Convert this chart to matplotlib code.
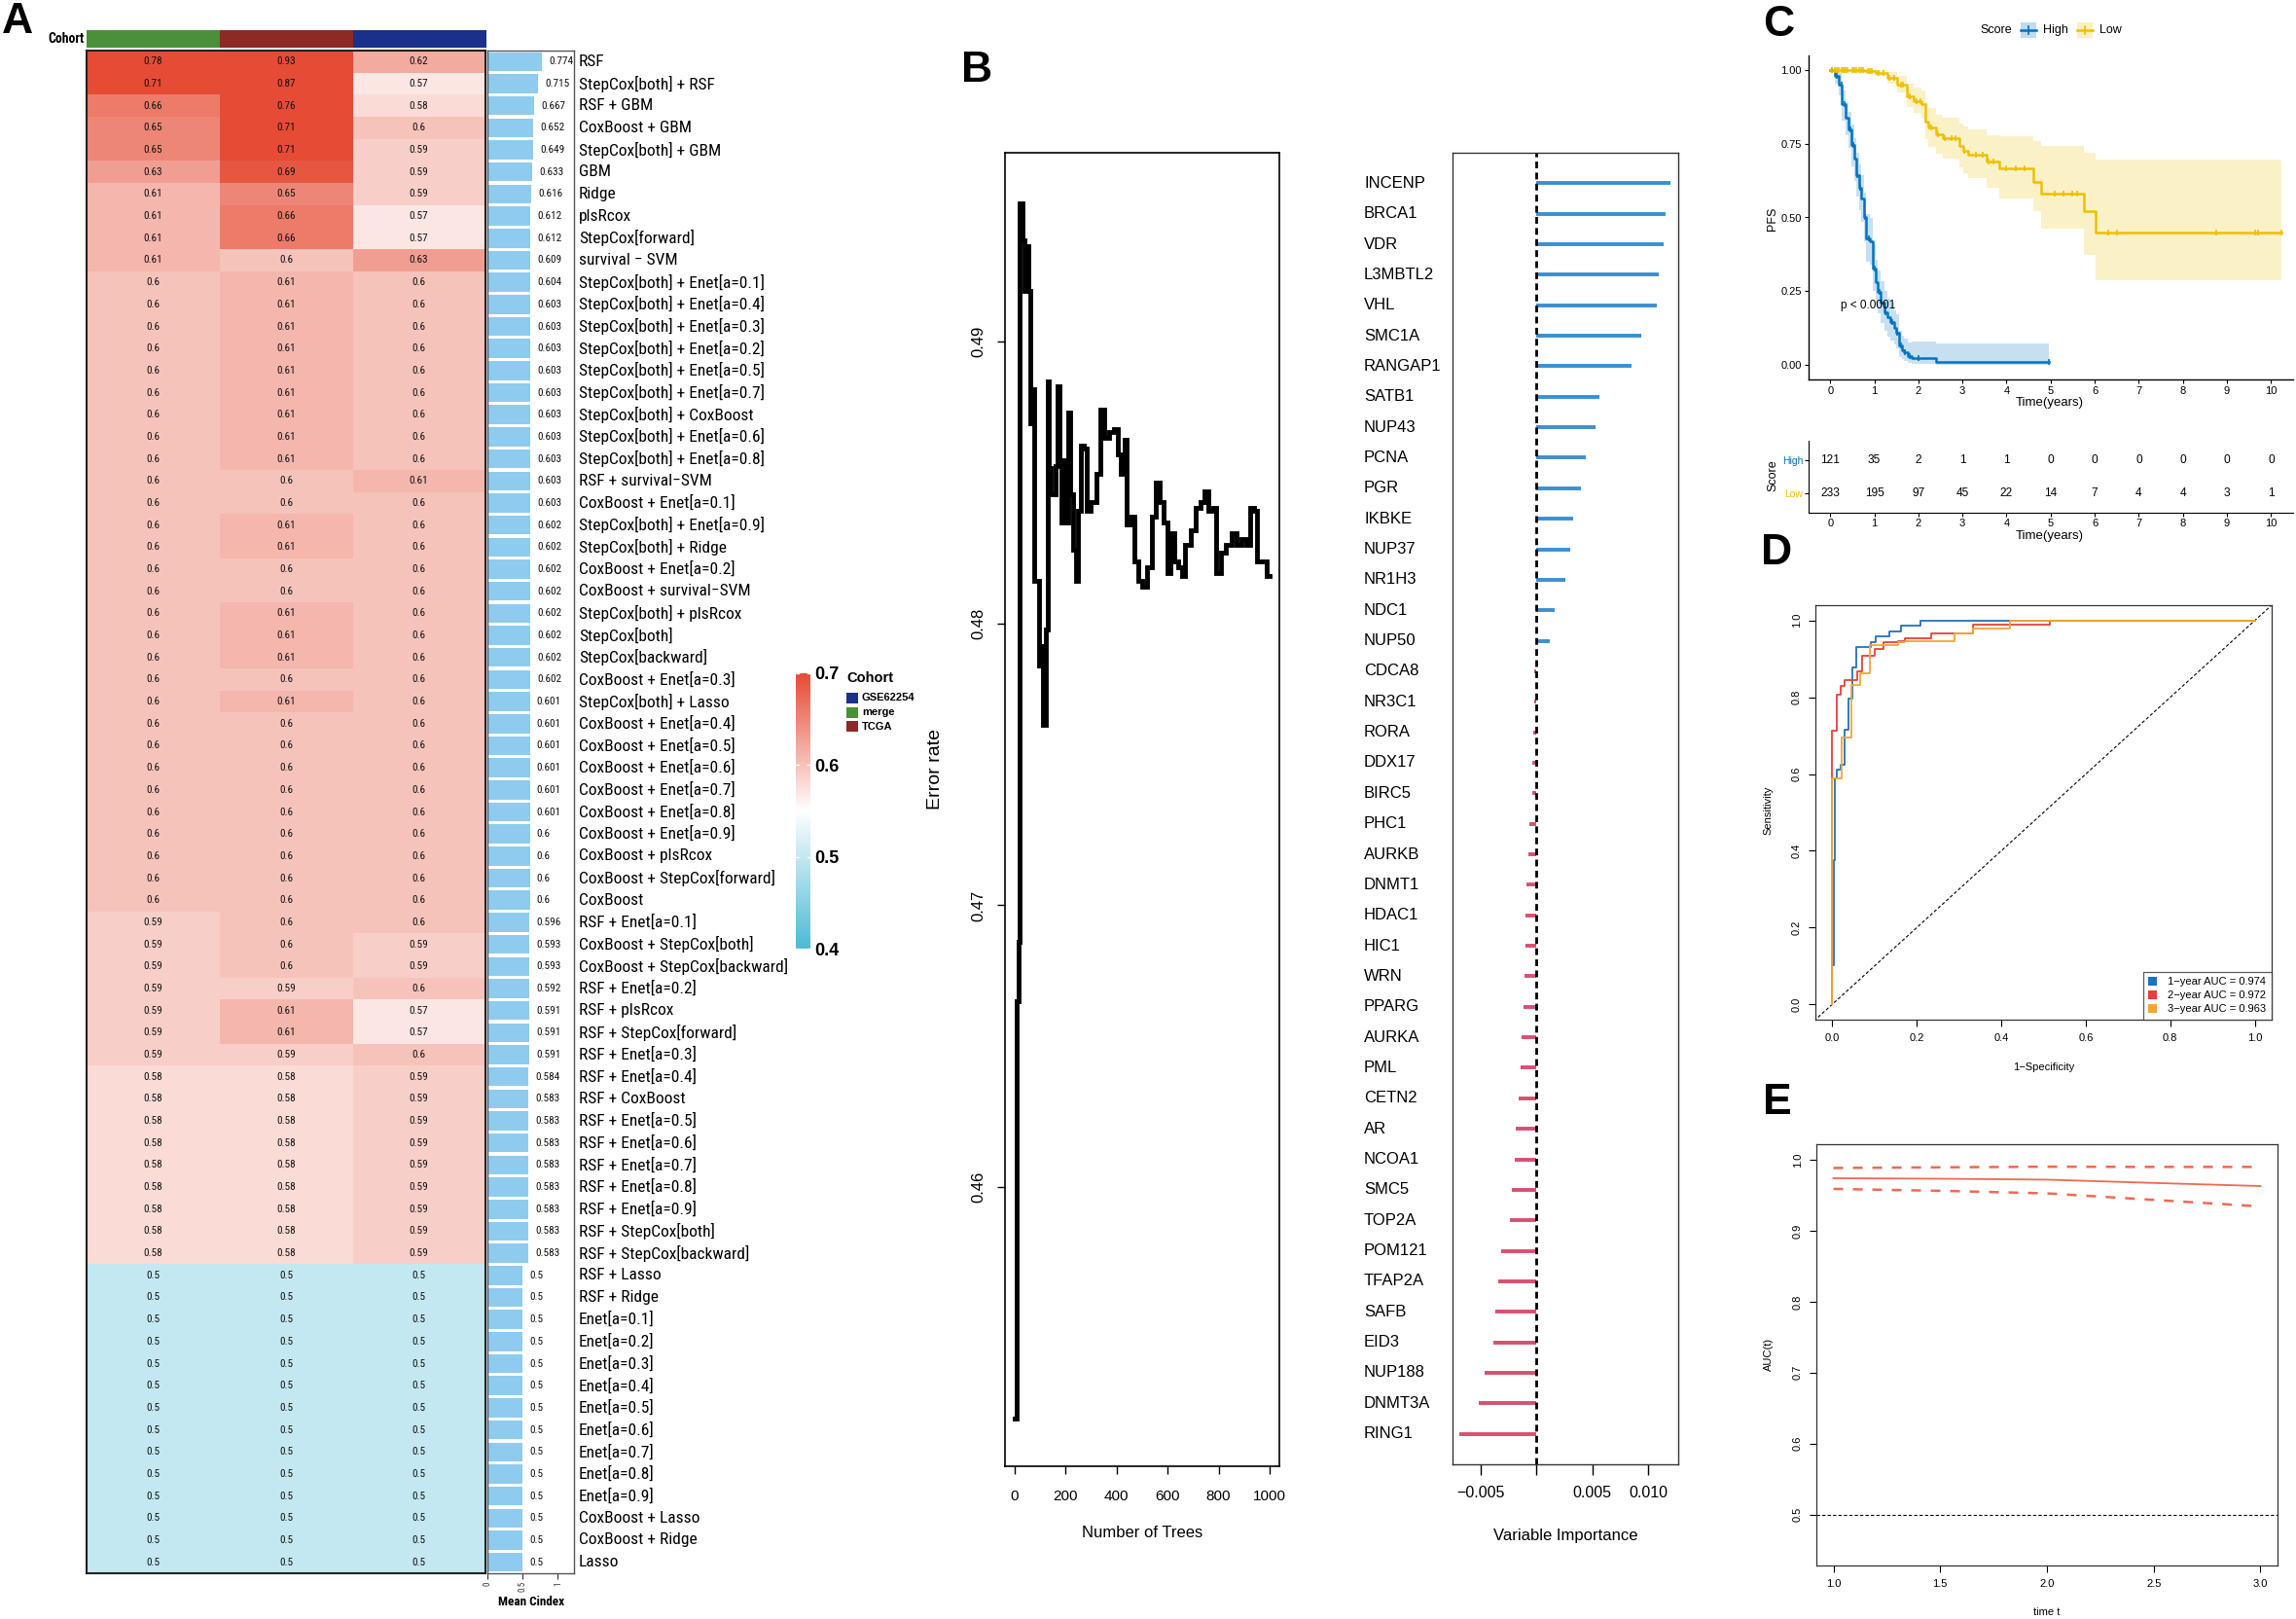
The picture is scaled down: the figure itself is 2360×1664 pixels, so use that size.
import numpy as np
import matplotlib
matplotlib.use('Agg')
import matplotlib.pyplot as plt
from matplotlib.colors import LinearSegmentedColormap, Normalize, ListedColormap
from matplotlib.patches import Rectangle, Patch
from matplotlib.lines import Line2D
import matplotlib.transforms as mtrans
import matplotlib.font_manager as fm

# ---------------- DATA ----------------
models = ["RSF", "StepCox[both] + RSF", "RSF + GBM", "CoxBoost + GBM", "StepCox[both] + GBM", "GBM", "Ridge",
          "plsRcox", "StepCox[forward]", "survival \u2212 SVM",
          "StepCox[both] + Enet[a=0.1]", "StepCox[both] + Enet[a=0.4]", "StepCox[both] + Enet[a=0.3]",
          "StepCox[both] + Enet[a=0.2]", "StepCox[both] + Enet[a=0.5]", "StepCox[both] + Enet[a=0.7]",
          "StepCox[both] + CoxBoost", "StepCox[both] + Enet[a=0.6]", "StepCox[both] + Enet[a=0.8]",
          "RSF + survival\u2212SVM",
          "CoxBoost + Enet[a=0.1]", "StepCox[both] + Enet[a=0.9]", "StepCox[both] + Ridge", "CoxBoost + Enet[a=0.2]",
          "CoxBoost + survival\u2212SVM", "StepCox[both] + plsRcox", "StepCox[both]", "StepCox[backward]",
          "CoxBoost + Enet[a=0.3]", "StepCox[both] + Lasso",
          "CoxBoost + Enet[a=0.4]", "CoxBoost + Enet[a=0.5]", "CoxBoost + Enet[a=0.6]", "CoxBoost + Enet[a=0.7]",
          "CoxBoost + Enet[a=0.8]", "CoxBoost + Enet[a=0.9]", "CoxBoost + plsRcox", "CoxBoost + StepCox[forward]",
          "CoxBoost", "RSF + Enet[a=0.1]",
          "CoxBoost + StepCox[both]", "CoxBoost + StepCox[backward]", "RSF + Enet[a=0.2]", "RSF + plsRcox",
          "RSF + StepCox[forward]", "RSF + Enet[a=0.3]", "RSF + Enet[a=0.4]", "RSF + CoxBoost", "RSF + Enet[a=0.5]",
          "RSF + Enet[a=0.6]",
          "RSF + Enet[a=0.7]", "RSF + Enet[a=0.8]", "RSF + Enet[a=0.9]", "RSF + StepCox[both]",
          "RSF + StepCox[backward]", "RSF + Lasso", "RSF + Ridge", "Enet[a=0.1]", "Enet[a=0.2]", "Enet[a=0.3]",
          "Enet[a=0.4]", "Enet[a=0.5]", "Enet[a=0.6]", "Enet[a=0.7]", "Enet[a=0.8]", "Enet[a=0.9]",
          "CoxBoost + Lasso", "CoxBoost + Ridge", "Lasso"]

cindex_merge = [0.78, 0.71, 0.66, 0.65, 0.65, 0.63, 0.61, 0.61, 0.61, 0.61,
                0.6, 0.6, 0.6, 0.6, 0.6, 0.6, 0.6, 0.6, 0.6, 0.6,
                0.6, 0.6, 0.6, 0.6, 0.6, 0.6, 0.6, 0.6, 0.6, 0.6,
                0.6, 0.6, 0.6, 0.6, 0.6, 0.6, 0.6, 0.6, 0.6, 0.59,
                0.59, 0.59, 0.59, 0.59, 0.59, 0.59, 0.58, 0.58, 0.58, 0.58,
                0.58, 0.58, 0.58, 0.58, 0.58, 0.5, 0.5, 0.5, 0.5, 0.5,
                0.5, 0.5, 0.5, 0.5, 0.5, 0.5, 0.5, 0.5, 0.5]
cindex_tcga = [0.93, 0.87, 0.76, 0.71, 0.71, 0.69, 0.65, 0.66, 0.66, 0.6,
               0.61, 0.61, 0.61, 0.61, 0.61, 0.61, 0.61, 0.61, 0.61, 0.6,
               0.6, 0.61, 0.61, 0.6, 0.6, 0.61, 0.61, 0.61, 0.6, 0.61,
               0.6, 0.6, 0.6, 0.6, 0.6, 0.6, 0.6, 0.6, 0.6, 0.6,
               0.6, 0.6, 0.59, 0.61, 0.61, 0.59, 0.58, 0.58, 0.58, 0.58,
               0.58, 0.58, 0.58, 0.58, 0.58, 0.5, 0.5, 0.5, 0.5, 0.5,
               0.5, 0.5, 0.5, 0.5, 0.5, 0.5, 0.5, 0.5, 0.5]
cindex_gse = [0.62, 0.57, 0.58, 0.6, 0.59, 0.59, 0.59, 0.57, 0.57, 0.63,
              0.6, 0.6, 0.6, 0.6, 0.6, 0.6, 0.6, 0.6, 0.6, 0.61,
              0.6, 0.6, 0.6, 0.6, 0.6, 0.6, 0.6, 0.6, 0.6, 0.6,
              0.6, 0.6, 0.6, 0.6, 0.6, 0.6, 0.6, 0.6, 0.6, 0.6,
              0.59, 0.59, 0.6, 0.57, 0.57, 0.6, 0.59, 0.59, 0.59, 0.59,
              0.59, 0.59, 0.59, 0.59, 0.59, 0.5, 0.5, 0.5, 0.5, 0.5,
              0.5, 0.5, 0.5, 0.5, 0.5, 0.5, 0.5, 0.5, 0.5]
mean_cindex = [0.774, 0.715, 0.667, 0.652, 0.649, 0.633, 0.616, 0.612, 0.612, 0.609,
               0.604, 0.603, 0.603, 0.603, 0.603, 0.603, 0.603, 0.603, 0.603, 0.603,
               0.603, 0.602, 0.602, 0.602, 0.602, 0.602, 0.602, 0.602, 0.602, 0.601,
               0.601, 0.601, 0.601, 0.601, 0.601, 0.6, 0.6, 0.6, 0.6, 0.596,
               0.593, 0.593, 0.592, 0.591, 0.591, 0.591, 0.584, 0.583, 0.583, 0.583,
               0.583, 0.583, 0.583, 0.583, 0.583, 0.5, 0.5, 0.5, 0.5, 0.5,
               0.5, 0.5, 0.5, 0.5, 0.5, 0.5, 0.5, 0.5, 0.5]
cohort_cols = ["merge", "TCGA", "GSE62254"]
cohort_legend = ["GSE62254", "merge", "TCGA"]
cohort_colors = {"merge": "#4a9038", "TCGA": "#8c2a26", "GSE62254": "#1b3088"}
cbar_ticks = [0.4, 0.5, 0.6, 0.7]

# Panel B: random forest error rate
rf_trees = [1, 10, 18, 20, 25, 30, 40, 45, 55, 62, 70, 78, 85, 95, 105, 112, 122, 130, 135, 142, 150, 160, 168,
            175, 183, 190, 198, 205, 212, 220, 230, 240, 250, 260, 270, 285, 300, 320, 335, 350, 370, 390, 405,
            418, 430, 440, 455, 470, 485, 500, 520, 540, 555, 570, 585, 600, 610, 625, 640, 655, 670, 690, 710,
            730, 745, 760, 780, 792, 810, 830, 850, 870, 890, 910, 922, 940, 950, 970, 990, 1000]
rf_error = [0.4518, 0.4666, 0.4687, 0.4949, 0.4949, 0.4936, 0.4918, 0.4934, 0.4918, 0.4871, 0.4883, 0.4815,
            0.4815, 0.4785, 0.4792, 0.4764, 0.4798, 0.4886, 0.4855, 0.4846, 0.4846, 0.4856, 0.4884, 0.4858,
            0.4836, 0.4858, 0.4856, 0.4836, 0.4875, 0.4846, 0.4826, 0.4815, 0.4840, 0.4863, 0.4862, 0.4840,
            0.4843, 0.4853, 0.4876, 0.4866, 0.4868, 0.4869, 0.4860, 0.4853, 0.4865, 0.4835, 0.4838, 0.4822,
            0.4815, 0.4813, 0.4820, 0.4838, 0.4850, 0.4843, 0.4836, 0.4818, 0.4832, 0.4822, 0.4820, 0.4817,
            0.4828, 0.4833, 0.4841, 0.4843, 0.4847, 0.4840, 0.4841, 0.4818, 0.4825, 0.4828, 0.4832, 0.4828,
            0.4830, 0.4828, 0.4841, 0.4840, 0.4822, 0.4822, 0.4817, 0.4817]

# Panel B: variable importance
genes = ["INCENP", "BRCA1", "VDR", "L3MBTL2", "VHL", "SMC1A", "RANGAP1", "SATB1", "NUP43", "PCNA", "PGR", "IKBKE",
         "NUP37", "NR1H3", "NDC1", "NUP50", "CDCA8", "NR3C1", "RORA", "DDX17", "BIRC5", "PHC1", "AURKB", "DNMT1",
         "HDAC1", "HIC1", "WRN", "PPARG", "AURKA", "PML", "CETN2", "AR", "NCOA1", "SMC5", "TOP2A", "POM121",
         "TFAP2A", "SAFB", "EID3", "NUP188", "DNMT3A", "RING1"]
importance = [0.0120, 0.01151, 0.01136, 0.01096, 0.01078, 0.00933, 0.00846, 0.00562, 0.00528, 0.00441, 0.00400,
              0.00325, 0.00304, 0.00255, 0.00165, 0.00122, -0.00023, -0.00020, -0.00030, -0.00035, -0.00040,
              -0.00067, -0.00075, -0.00090, -0.00096, -0.00096, -0.00104, -0.00119, -0.00130, -0.00142, -0.00160,
              -0.00183, -0.00197, -0.00220, -0.00235, -0.00316, -0.00345, -0.00371, -0.00386, -0.00464, -0.00513,
              -0.00690]

# Panel C: Kaplan-Meier
high_t = [0, 0.10, 0.20, 0.27, 0.35, 0.42, 0.49, 0.55, 0.60, 0.66, 0.71, 0.77, 0.82, 0.90, 0.97, 1.03, 1.08, 1.15,
          1.23, 1.30, 1.37, 1.45, 1.49, 1.56, 1.62, 1.67, 1.75, 1.85, 2.40, 4.96]
high_s = [1.0, 0.98, 0.952, 0.884, 0.838, 0.80, 0.747, 0.70, 0.645, 0.60, 0.565, 0.50, 0.429, 0.418, 0.327, 0.28,
          0.247, 0.21, 0.179, 0.16, 0.144, 0.125, 0.110, 0.065, 0.05, 0.042, 0.03, 0.022, 0.010, 0.010]
high_lo = [1.0, 0.955, 0.915, 0.83, 0.78, 0.735, 0.675, 0.625, 0.57, 0.525, 0.485, 0.42, 0.35, 0.34, 0.25, 0.205,
           0.175, 0.14, 0.115, 0.095, 0.083, 0.068, 0.056, 0.026, 0.018, 0.013, 0.007, 0.004, 0.001, 0.001]
high_up = [1.0, 1.0, 0.99, 0.93, 0.89, 0.86, 0.815, 0.77, 0.72, 0.68, 0.645, 0.585, 0.51, 0.50, 0.405, 0.355,
           0.32, 0.285, 0.25, 0.225, 0.21, 0.185, 0.17, 0.115, 0.10, 0.09, 0.075, 0.078, 0.071, 0.071]
low_t = [0, 0.80, 1.04, 1.30, 1.52, 1.74, 1.89, 2.07, 2.15, 2.22, 2.40, 2.55, 2.92, 3.02, 3.14, 3.54, 3.84, 4.60,
         4.79, 5.75, 6.01, 10.24]
low_s = [1.0, 0.997, 0.992, 0.975, 0.952, 0.912, 0.895, 0.884, 0.827, 0.804, 0.782, 0.770, 0.742, 0.725, 0.713,
         0.691, 0.668, 0.622, 0.582, 0.520, 0.448, 0.448]
low_lo = [1.0, 0.99, 0.98, 0.955, 0.925, 0.875, 0.855, 0.84, 0.765, 0.74, 0.715, 0.70, 0.67, 0.65, 0.635, 0.60,
          0.565, 0.52, 0.463, 0.374, 0.287, 0.287]
low_up = [1.0, 1.0, 1.0, 0.995, 0.98, 0.955, 0.94, 0.93, 0.89, 0.87, 0.85, 0.84, 0.82, 0.81, 0.80, 0.78, 0.775,
          0.76, 0.742, 0.719, 0.696, 0.696]
high_censor = [0.05, 0.15, 0.25, 0.32, 0.45, 0.53, 0.62, 0.69, 0.80, 0.88, 1.0, 1.12, 1.25, 1.40, 1.52, 1.60,
               1.70, 1.80, 2.0, 4.97]
low_censor = [0.05, 0.1, 0.15, 0.2, 0.25, 0.3, 0.35, 0.4, 0.5, 0.55, 0.6, 0.65, 0.7, 0.75, 0.85, 0.9, 0.95, 1.1,
              1.2, 1.35, 1.45, 1.6, 1.65, 1.8, 1.95, 2.05, 2.3, 2.45, 2.6, 2.75, 2.85, 3.05, 3.3, 3.45, 3.6, 3.7,
              4.0, 4.2, 4.4, 5.1, 5.3, 5.5, 5.6, 6.3, 6.5, 8.75, 9.65, 9.7, 10.24]
risk_times = [0, 1, 2, 3, 4, 5, 6, 7, 8, 9, 10]
risk_high = [121, 35, 2, 1, 1, 0, 0, 0, 0, 0, 0]
risk_low = [233, 195, 97, 45, 22, 14, 7, 4, 4, 3, 1]

# Panel D: ROC
roc1_fpr = [0, 0, 0.003, 0.003, 0.007, 0.007, 0.011, 0.011, 0.019, 0.019, 0.030, 0.030, 0.038, 0.038, 0.048,
            0.048, 0.056, 0.056, 0.092, 0.092, 0.103, 0.103, 0.136, 0.136, 0.162, 0.162, 0.209, 0.209, 1.0]
roc1_tpr = [0, 0.103, 0.103, 0.377, 0.377, 0.588, 0.588, 0.612, 0.612, 0.625, 0.625, 0.716, 0.716, 0.797, 0.797,
            0.878, 0.878, 0.932, 0.932, 0.944, 0.944, 0.959, 0.959, 0.972, 0.972, 0.986, 0.986, 1.0, 1.0]
roc2_fpr = [0, 0, 0.011, 0.011, 0.021, 0.021, 0.030, 0.030, 0.060, 0.060, 0.071, 0.071, 0.101, 0.101, 0.122,
            0.122, 0.155, 0.155, 0.171, 0.171, 0.233, 0.233, 0.334, 0.334, 0.515, 0.515, 1.0]
roc2_tpr = [0, 0.713, 0.713, 0.808, 0.808, 0.829, 0.829, 0.846, 0.846, 0.868, 0.868, 0.907, 0.907, 0.926, 0.926,
            0.943, 0.943, 0.947, 0.947, 0.955, 0.955, 0.966, 0.966, 0.989, 0.989, 1.0, 1.0]
roc3_fpr = [0, 0, 0.023, 0.023, 0.045, 0.045, 0.066, 0.066, 0.089, 0.089, 0.155, 0.155, 0.171, 0.171, 0.289,
            0.289, 0.334, 0.334, 0.421, 0.421, 1.0]
roc3_tpr = [0, 0.588, 0.588, 0.696, 0.696, 0.833, 0.833, 0.862, 0.862, 0.936, 0.936, 0.943, 0.943, 0.947, 0.947,
            0.966, 0.966, 0.978, 0.978, 1.0, 1.0]
roc_labels = ["1\u2212year AUC = 0.974", "2\u2212year AUC = 0.972", "3\u2212year AUC = 0.963"]
roc_colors = ["#1f72bd", "#e6403a", "#f5a632"]

# Panel E: time-dependent AUC
auc_time = [1.0, 1.5, 2.0, 2.5, 3.0]
auc_val = [0.974, 0.9733, 0.972, 0.9674, 0.963]
auc_upper = [0.9885, 0.9894, 0.9903, 0.990, 0.990]
auc_lower = [0.959, 0.9563, 0.9527, 0.9435, 0.9343]

# ---------------- FIGURE ----------------
W, H = 2360, 1664
fig = plt.figure(figsize=(W / 100, H / 100), dpi=100)
renderer = fig.canvas.get_renderer()

avail = {f.name for f in fm.fontManager.ttflist}
NARROW = next((f for f in ['Liberation Sans Narrow', 'Arial Narrow', 'Roboto Condensed', 'Liberation Sans']
               if f in avail), 'DejaVu Sans')
SANS = 'Liberation Sans' if 'Liberation Sans' in avail else 'DejaVu Sans'
plt.rcParams['font.family'] = [SANS, 'DejaVu Sans']
plt.rcParams['axes.unicode_minus'] = True


def ax_px(x0, y0, x1, y1):
    return fig.add_axes([x0 / W, 1 - y1 / H, (x1 - x0) / W, (y1 - y0) / H])


def fx(x):
    return x / W


def fy(y):
    return 1 - y / H


def fit(s, target, family, weight='normal'):
    t = fig.text(0, 0, s, fontsize=10, family=family, weight=weight)
    w = t.get_window_extent(renderer).width
    t.remove()
    return 10.0 * target / w


NFAM = [NARROW, 'DejaVu Sans']

# panel letters
for letter, x, y in [("A", 2, 2), ("B", 988, 52), ("C", 1812, 5), ("D", 1810, 548), ("E", 1812, 1113)]:
    fig.text(fx(x), fy(y), letter, fontsize=32, weight='bold', ha='left', va='top', family=SANS)

# ---------------- PANEL A ----------------
n = len(models)
cmap = LinearSegmentedColormap.from_list("hm", [(0.0, "#4DBBD5"), (0.5, "#FFFFFF"), (1.0, "#E64B35")])
norm = Normalize(0.4, 0.7)
data = np.array([cindex_merge, cindex_tcga, cindex_gse]).T

hx0, hx1, hy0, hy1 = 89, 499, 52, 1617
axh = ax_px(hx0, hy0, hx1, hy1)
axh.imshow(data, cmap=cmap, norm=norm, aspect='auto', interpolation='nearest',
           extent=(-0.5, 2.5, n - 0.5, -0.5))
axh.set_xlim(-0.5, 2.5)
axh.set_ylim(n - 0.5, -0.5)
axh.set_xticks([])
axh.set_yticks([])
for s in axh.spines.values():
    s.set_linewidth(1.5)
    s.set_color('#222222')
cell_fs = fit("0.78", 19.5, NARROW)
for i in range(n):
    for j in range(3):
        axh.text(j, i, f"{data[i, j]:g}", ha='center', va='center', fontsize=cell_fs, family=NFAM,
                 color='#111111')

# cohort annotation bar
axc = ax_px(hx0, 31, hx1, 49)
axc.imshow(np.arange(3)[None, :], cmap=ListedColormap([cohort_colors[c] for c in cohort_cols]),
           aspect='auto', interpolation='nearest')
axc.axis('off')
fig.text(fx(87), fy(40), "Cohort", ha='right', va='center', weight='bold',
         fontsize=fit("Cohort", 37, NARROW, 'bold'), family=NFAM)

# mean c-index bars
bx0, bx1 = 501.4, 589.7
axb = ax_px(bx0, hy0, bx1, hy1)
axb.barh(np.arange(n), mean_cindex, height=0.86, color='#8ecbef', edgecolor='none')
axb.set_ylim(n - 0.5, -0.5)
axb.set_xlim(0, (bx1 - bx0) / 72.0)
mean_fs = fit("0.774", 25, NARROW)
for i, v in enumerate(mean_cindex):
    axb.text(v + 0.1, i, f"{v:g}", ha='left', va='center', fontsize=mean_fs, family=NFAM, color='#111111')
axb.set_yticks([])
axb.set_xticks([0, 0.5, 1])
axb.set_xticklabels(['0', '0.5', '1'], rotation=90, fontsize=6.5, family=NFAM)
axb.tick_params(axis='x', length=4, width=0.8, pad=2, colors='#333333')
for s in axb.spines.values():
    s.set_linewidth(1.0)
    s.set_color('#555555')
fig.text(fx(546), fy(1646), "Mean Cindex", ha='center', va='center', weight='bold',
         fontsize=fit("Mean Cindex", 68, NARROW, 'bold'), family=NFAM)

# row labels
row_h = (hy1 - hy0) / n
lab_fs = fit("StepCox[both] + Enet[a=0.1]", 190, NARROW)
for i, m in enumerate(models):
    fig.text(fx(595), fy(hy0 + (i + 0.5) * row_h), m, ha='left', va='center', fontsize=lab_fs, family=NFAM)

# colour bar legend
axcb = ax_px(818, 692, 833, 975)
grad = np.linspace(0.7, 0.4, 256)[:, None]
axcb.imshow(grad, cmap=cmap, norm=norm, aspect='auto', extent=(0, 1, 0.4, 0.7))
axcb.set_xlim(0, 1)
axcb.set_ylim(0.4, 0.7)
axcb.set_xticks([])
axcb.yaxis.tick_right()
axcb.set_yticks(cbar_ticks)
axcb.set_yticklabels([f"{v:g}" for v in cbar_ticks], fontsize=13, weight='bold')
axcb.tick_params(axis='y', length=0, pad=3)
for v in cbar_ticks:
    axcb.plot([0, 0.18], [v, v], color='white', lw=1.0)
    axcb.plot([0.82, 1], [v, v], color='white', lw=1.0)
for s in axcb.spines.values():
    s.set_visible(False)

# cohort legend
fig.text(fx(870), fy(697), "Cohort", ha='left', va='center', fontsize=10.5, weight='bold')
for k, c in enumerate(cohort_legend):
    y0 = 712 + k * 14.5
    fig.add_artist(Rectangle((fx(870), fy(y0 + 11)), 12 / W, 11 / H, transform=fig.transFigure,
                             facecolor=cohort_colors[c], edgecolor='none'))
    fig.text(fx(886), fy(y0 + 5.5), c, ha='left', va='center', fontsize=8, weight='bold')

# ---------------- PANEL B (error rate) ----------------
axe = ax_px(1033, 157, 1315, 1507)
axe.plot(rf_trees, rf_error, color='black', lw=3.5, drawstyle='steps-post', solid_joinstyle='miter')
axe.set_xlim(-37, 1038)
axe.set_ylim(0.4501, 0.4967)
axe.set_xticks([0, 200, 400, 600, 800, 1000])
axe.set_xticklabels(['0', '200', '400', '600', '800', '1000'], fontsize=11)
axe.set_yticks([0.46, 0.47, 0.48, 0.49])
axe.set_yticklabels(['0.46', '0.47', '0.48', '0.49'], fontsize=12)
for lab in axe.get_yticklabels():
    lab.set_rotation(90)
    lab.set_va('center')
axe.tick_params(axis='x', direction='out', length=6, width=1, pad=11)
axe.tick_params(axis='y', direction='out', length=6, width=1, pad=8)
for s in axe.spines.values():
    s.set_linewidth(1.2)
fig.text(fx(1174), fy(1576), "Number of Trees", ha='center', va='center', fontsize=12)
fig.text(fx(961), fy(790), "Error rate", ha='center', va='center', rotation=90, fontsize=14)

# ---------------- PANEL B (variable importance) ----------------
axv = ax_px(1493, 157, 1725, 1505)
ypos = np.arange(1, len(genes) + 1)
vcols = ['#3a8fd2' if v > 0 else '#d94f6f' for v in importance]
axv.hlines(ypos, 0, importance, colors=vcols, lw=2.8, capstyle='butt')
axv.axvline(0, color='black', lw=2.0, linestyle=(0, (2.5, 1.6)))
axv.set_xlim(-0.0075, 0.01267)
axv.set_ylim(len(genes) + 1, 0)
axv.set_yticks([])
axv.set_xticks([-0.005, 0, 0.005, 0.010])
axv.set_xticklabels(['\u22120.005', '', '0.005', '0.010'], fontsize=11.5)
axv.tick_params(axis='x', direction='out', length=8, width=1, pad=8)
for s in axv.spines.values():
    s.set_linewidth(1.0)
    s.set_color('#333333')
gtrans = mtrans.blended_transform_factory(fig.transFigure, axv.transData)
for g, yv in zip(genes, ypos):
    fig.text(fx(1402), 0, g, transform=gtrans, ha='left', va='center', fontsize=12).set_y(yv)
fig.text(fx(1609), fy(1578), "Variable Importance", ha='center', va='center', fontsize=12)

# ---------------- PANEL C (KM) ----------------
C_HIGH = "#0073C2"
C_LOW = "#EFC000"


def step_val(ts, ss, t):
    idx = np.searchsorted(ts, t, side='right') - 1
    return np.asarray(ss)[idx]


axk = ax_px(1859, 57, 2357, 390)
axk.fill_between(high_t, high_lo, high_up, step='post', color=C_HIGH, alpha=0.22, lw=0)
axk.fill_between(low_t, low_lo, low_up, step='post', color=C_LOW, alpha=0.22, lw=0)
axk.step(high_t, high_s, where='post', color=C_HIGH, lw=1.8)
axk.step(low_t, low_s, where='post', color=C_LOW, lw=1.8)
axk.plot(high_censor, step_val(high_t, high_s, high_censor), ls='none', marker='|', ms=5, mew=1.2, color=C_HIGH)
axk.plot(low_censor, step_val(low_t, low_s, low_censor), ls='none', marker='|', ms=5, mew=1.2, color=C_LOW)
axk.set_xlim(-0.49, 10.5)
axk.set_ylim(-0.05, 1.05)
axk.set_xticks(range(11))
axk.set_xticklabels([str(i) for i in range(11)], fontsize=8)
axk.set_yticks([0, 0.25, 0.5, 0.75, 1.0])
axk.set_yticklabels(['0.00', '0.25', '0.50', '0.75', '1.00'], fontsize=8)
axk.tick_params(length=3, width=0.8, pad=2)
for side in ['top', 'right']:
    axk.spines[side].set_visible(False)
for side in ['left', 'bottom']:
    axk.spines[side].set_linewidth(1.0)
axk.text(0.24, 0.20, "p < 0.0001", fontsize=8.5, ha='left', va='center')
fig.text(fx(1822), fy(225), "PFS", rotation=90, ha='center', va='center', fontsize=9)
fig.text(fx(2107), fy(414), "Time(years)", ha='center', va='center', fontsize=9.5)

# legend on top
fig.text(fx(2035), fy(31), "Score", ha='left', va='center', fontsize=9)
for (x0, lab, col) in [(2077, "High", C_HIGH), (2135, "Low", C_LOW)]:
    fig.add_artist(Rectangle((fx(x0), fy(39)), 16 / W, 16 / H, transform=fig.transFigure,
                             facecolor=col, alpha=0.25, edgecolor='none'))
    fig.add_artist(Line2D([fx(x0), fx(x0 + 16)], [fy(31), fy(31)], transform=fig.transFigure, color=col, lw=1.8))
    fig.add_artist(Line2D([fx(x0 + 8), fx(x0 + 8)], [fy(27), fy(35)], transform=fig.transFigure, color=col, lw=1.2))
    fig.text(fx(x0 + 23), fy(31), lab, ha='left', va='center', fontsize=9)

# risk table
axr = ax_px(1859, 453, 2357, 527)
axr.set_xlim(-0.49, 10.5)
axr.set_ylim(0.4, 2.6)
for k, t in enumerate(risk_times):
    axr.text(t, 2, str(risk_high[k]), ha='center', va='center', fontsize=8.6)
    axr.text(t, 1, str(risk_low[k]), ha='center', va='center', fontsize=8.6)
axr.set_yticks([1, 2])
axr.set_yticklabels(['Low', 'High'], fontsize=7.5)
axr.get_yticklabels()[0].set_color(C_LOW)
axr.get_yticklabels()[1].set_color(C_HIGH)
axr.set_xticks(risk_times)
axr.set_xticklabels([str(t) for t in risk_times], fontsize=8)
axr.tick_params(length=3, width=0.8, pad=1)
for side in ['top', 'right']:
    axr.spines[side].set_visible(False)
fig.text(fx(1822), fy(489), "Score", rotation=90, ha='center', va='center', fontsize=9)
fig.text(fx(2107), fy(551), "Time(years)", ha='center', va='center', fontsize=9.5)

# ---------------- PANEL D (ROC) ----------------
axd = ax_px(1866, 622, 2335, 1048)
axd.plot([-0.1, 1.1], [-0.1, 1.1], color='black', lw=0.8, ls=(0, (3, 2)))
for fpr, tpr, col in [(roc1_fpr, roc1_tpr, roc_colors[0]), (roc2_fpr, roc2_tpr, roc_colors[1]),
                      (roc3_fpr, roc3_tpr, roc_colors[2])]:
    axd.plot(fpr, tpr, color=col, lw=1.3)
axd.set_xlim(-0.04, 1.04)
axd.set_ylim(-0.04, 1.04)
ticks = [0, 0.2, 0.4, 0.6, 0.8, 1.0]
axd.set_xticks(ticks)
axd.set_xticklabels([f"{t:.1f}" for t in ticks], fontsize=8)
axd.set_yticks(ticks)
axd.set_yticklabels([f"{t:.1f}" for t in ticks], fontsize=8)
for lab in axd.get_yticklabels():
    lab.set_rotation(90)
    lab.set_va('center')
axd.tick_params(length=5, width=0.8, pad=5)
for s in axd.spines.values():
    s.set_linewidth(0.9)
    s.set_color('#333333')
handles = [Patch(facecolor=c, edgecolor='none') for c in roc_colors]
leg = axd.legend(handles, roc_labels, loc='lower right', borderaxespad=0, fontsize=8, frameon=True,
                 fancybox=False, handlelength=0.8, handleheight=0.8, handletextpad=1.0, borderpad=0.5,
                 labelspacing=0.35)
leg.get_frame().set_edgecolor('#333333')
leg.get_frame().set_linewidth(0.9)
fig.text(fx(1817), fy(833), "Sensitivity", rotation=90, ha='center', va='center', fontsize=8)
fig.text(fx(2101), fy(1097), "1\u2212Specificity", ha='center', va='center', fontsize=8)

# ---------------- PANEL E (AUC over time) ----------------
axa = ax_px(1867, 1176, 2341, 1609)
axa.axhline(0.5, color='black', lw=0.8, ls=(0, (3, 2)))
axa.plot(auc_time, auc_val, color='#ee6a50', lw=1.3)
axa.plot(auc_time, auc_upper, color='#ee6a50', lw=1.8, ls=(0, (4, 4)))
axa.plot(auc_time, auc_lower, color='#ee6a50', lw=1.8, ls=(0, (4, 4)))
axa.set_xlim(0.92, 3.08)
axa.set_ylim(0.428, 1.022)
axa.set_xticks([1.0, 1.5, 2.0, 2.5, 3.0])
axa.set_xticklabels(['1.0', '1.5', '2.0', '2.5', '3.0'], fontsize=8)
axa.set_yticks([0.5, 0.6, 0.7, 0.8, 0.9, 1.0])
axa.set_yticklabels(['0.5', '0.6', '0.7', '0.8', '0.9', '1.0'], fontsize=8)
for lab in axa.get_yticklabels():
    lab.set_rotation(90)
    lab.set_va('center')
axa.tick_params(length=5, width=0.8, pad=5)
for s in axa.spines.values():
    s.set_linewidth(0.9)
    s.set_color('#333333')
fig.text(fx(1818), fy(1392), "AUC(t)", rotation=90, ha='center', va='center', fontsize=8)
fig.text(fx(2104), fy(1657), "time t", ha='center', va='center', fontsize=8)

fig.savefig("out.png", dpi=100)
